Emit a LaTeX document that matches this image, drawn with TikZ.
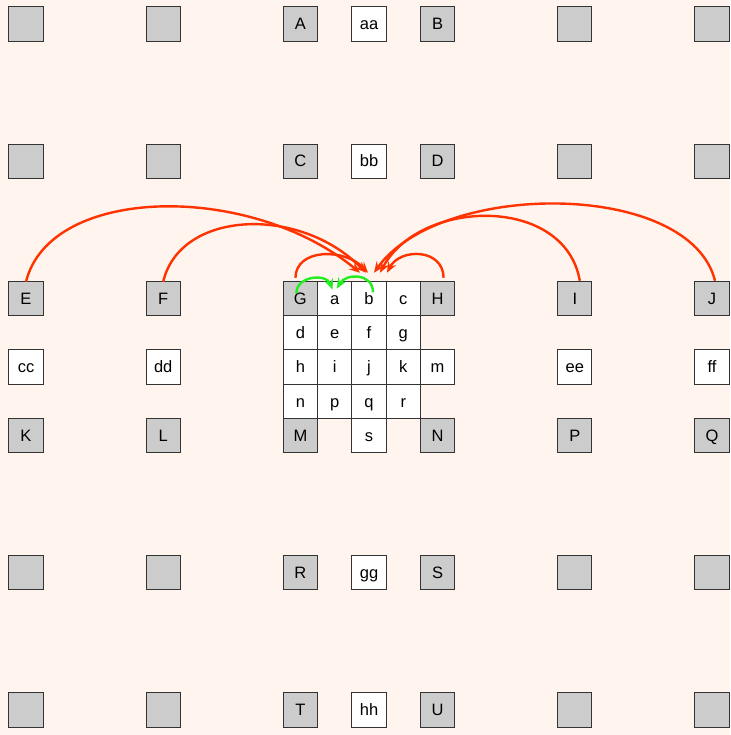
\documentclass[tikz,border=0pt]{standalone}
\usepackage{fontspec}
\setmainfont{Liberation Sans}
\usetikzlibrary{arrows.meta,calc}
\definecolor{bgc}{HTML}{FFF4EE}
\definecolor{greyfill}{HTML}{CCCCCC}
\definecolor{redarc}{HTML}{FF3300}
\definecolor{greenarc}{HTML}{22EE22}
\newcommand\gp[2]{({26+34.3*#1},{24+34.3*#2})}
\begin{document}
\begin{tikzpicture}[x=1pt,y=-1pt,
  cellbase/.style={draw=black!80, line width=1pt, minimum size=34.3pt, inner sep=0pt, text height=11.5pt, text depth=0pt, font=\fontsize{16.5}{19}\selectfont},
  gbox/.style={cellbase, fill=greyfill},
  wbox/.style={cellbase, fill=white},
  redline/.style={draw=redarc, line width=2.4pt, -{Stealth[length=11pt,width=9pt,inset=4pt]}},
  greenline/.style={draw=greenarc, line width=2.4pt, -{Stealth[length=11pt,width=9pt,inset=4pt]}}]
\useasboundingbox (0,0) rectangle (730,735);
\fill[bgc] (0,0) rectangle (730,735);
% row 0
\node[gbox] (g00) at \gp{0}{0} {};
\node[gbox] (g40) at \gp{4}{0} {};
\node[gbox] (A) at \gp{8}{0} {A};
\node[wbox] (aa) at \gp{10}{0} {aa};
\node[gbox] (B) at \gp{12}{0} {B};
\node[gbox] (g160) at \gp{16}{0} {};
\node[gbox] (g200) at \gp{20}{0} {};
% row 4
\node[gbox] (g04) at \gp{0}{4} {};
\node[gbox] (g44) at \gp{4}{4} {};
\node[gbox] (C) at \gp{8}{4} {C};
\node[wbox] (bb) at \gp{10}{4} {bb};
\node[gbox] (D) at \gp{12}{4} {D};
\node[gbox] (g164) at \gp{16}{4} {};
\node[gbox] (g204) at \gp{20}{4} {};
% row 8
\node[gbox] (E) at \gp{0}{8} {E};
\node[gbox] (F) at \gp{4}{8} {F};
\node[gbox] (G) at \gp{8}{8} {G};
\node[wbox] (a) at \gp{9}{8} {a};
\node[wbox] (b) at \gp{10}{8} {b};
\node[wbox] (c) at \gp{11}{8} {c};
\node[gbox] (H) at \gp{12}{8} {H};
\node[gbox] (I) at \gp{16}{8} {I};
\node[gbox] (J) at \gp{20}{8} {J};
% row 9
\node[wbox] (d) at \gp{8}{9} {d};
\node[wbox] (e) at \gp{9}{9} {e};
\node[wbox] (f) at \gp{10}{9} {f};
\node[wbox] (g) at \gp{11}{9} {g};
% row 10
\node[wbox] (cc) at \gp{0}{10} {cc};
\node[wbox] (dd) at \gp{4}{10} {dd};
\node[wbox] (h) at \gp{8}{10} {h};
\node[wbox] (i) at \gp{9}{10} {i};
\node[wbox] (j) at \gp{10}{10} {j};
\node[wbox] (k) at \gp{11}{10} {k};
\node[wbox] (m) at \gp{12}{10} {m};
\node[wbox] (ee) at \gp{16}{10} {ee};
\node[wbox] (ff) at \gp{20}{10} {ff};
% row 11
\node[wbox] (n) at \gp{8}{11} {n};
\node[wbox] (p) at \gp{9}{11} {p};
\node[wbox] (q) at \gp{10}{11} {q};
\node[wbox] (r) at \gp{11}{11} {r};
% row 12
\node[gbox] (K) at \gp{0}{12} {K};
\node[gbox] (L) at \gp{4}{12} {L};
\node[gbox] (M) at \gp{8}{12} {M};
\node[wbox] (s) at \gp{10}{12} {s};
\node[gbox] (N) at \gp{12}{12} {N};
\node[gbox] (P) at \gp{16}{12} {P};
\node[gbox] (Q) at \gp{20}{12} {Q};
% row 16
\node[gbox] (g016) at \gp{0}{16} {};
\node[gbox] (g416) at \gp{4}{16} {};
\node[gbox] (R) at \gp{8}{16} {R};
\node[wbox] (gg) at \gp{10}{16} {gg};
\node[gbox] (S) at \gp{12}{16} {S};
\node[gbox] (g1616) at \gp{16}{16} {};
\node[gbox] (g2016) at \gp{20}{16} {};
% row 20
\node[gbox] (g020) at \gp{0}{20} {};
\node[gbox] (g420) at \gp{4}{20} {};
\node[gbox] (T) at \gp{8}{20} {T};
\node[wbox] (hh) at \gp{10}{20} {hh};
\node[gbox] (U) at \gp{12}{20} {U};
\node[gbox] (g1620) at \gp{16}{20} {};
\node[gbox] (g2020) at \gp{20}{20} {};
% red connectors into b
\draw[redline] ($(E.north)+(0,1)$) .. controls (50,185) and (250,182) .. ($(b.north)+(-9,-8)$);
\draw[redline] ($(F.north)+(0,1)$) .. controls (180,210) and (300,205) .. ($(b.north)+(-3,-8)$);
\draw[redline] ($(G.north)+(-5,-3)$) .. controls (296,248) and (345,248) .. ($(b.north)+(-1,-8)$);
\draw[redline] ($(H.north)+(6,-3)$) .. controls (443,248) and (400,248) .. ($(b.north)+(18,-8)$);
\draw[redline] ($(I.north)+(5,0)$) .. controls (565,195) and (420,198) .. ($(b.north)+(11,-8)$);
\draw[redline] ($(J.north)+(3,0)$) .. controls (690,180) and (440,180) .. ($(b.north)+(5,-8)$);
% green connectors into a
\draw[greenline] ($(G.center)+(-4,-5)$) .. controls (296,276) and (326,273) .. ($(a.north)+(-2,9)$);
\draw[greenline] ($(b.center)+(4,-6)$) .. controls (373,273) and (346,273) .. ($(a.north)+(2,8)$);
\end{tikzpicture}
\end{document}
